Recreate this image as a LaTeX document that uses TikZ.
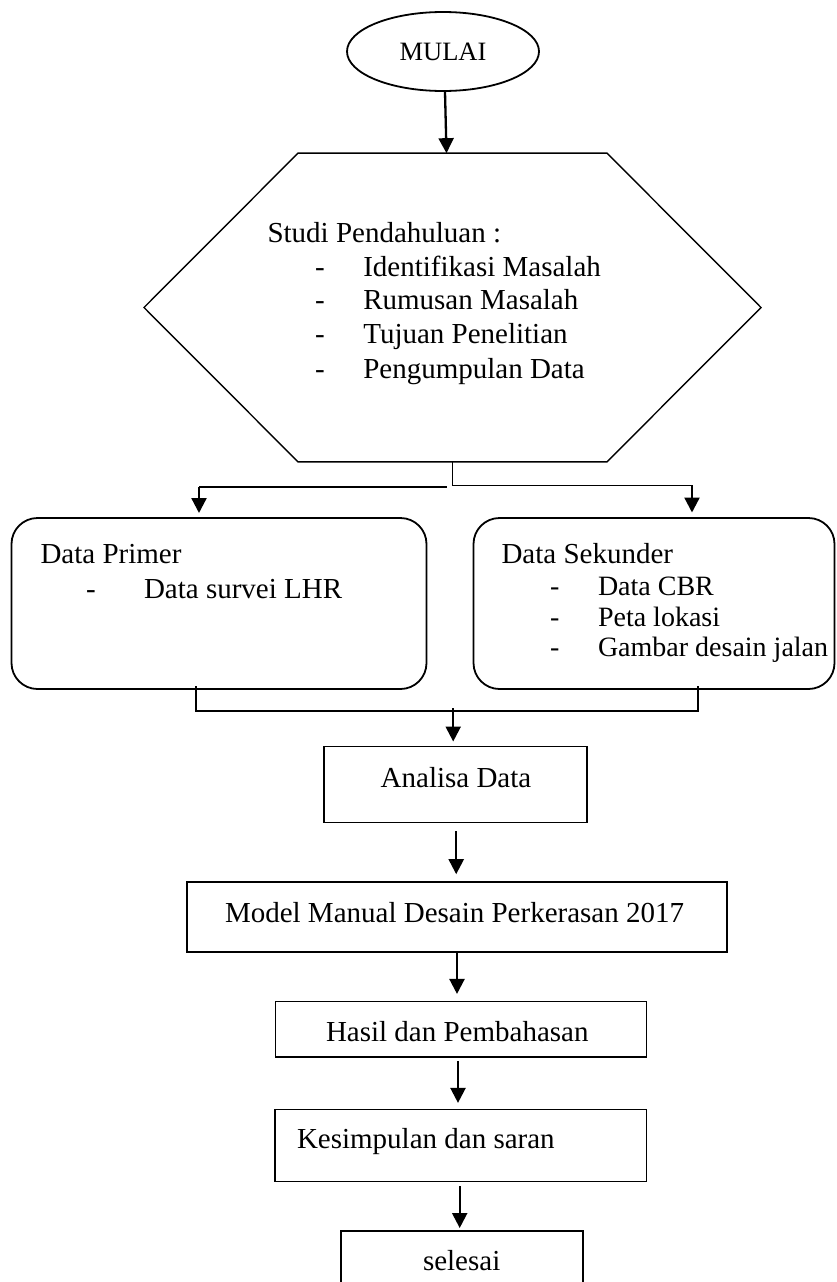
\documentclass[tikz,border=0pt]{standalone}
\usepackage{fontspec}
\setmainfont{Liberation Serif}
\usetikzlibrary{shapes.geometric,arrows.meta}
\begin{document}
\begin{tikzpicture}[x=1pt,y=-1pt,
  box/.style={draw,line width=1.8pt,rectangle,inner sep=0pt,outer sep=0pt},
  rbox/.style={box,rounded corners=26pt},
  ghost/.style={rectangle,inner sep=0pt,outer sep=0pt},
  txt/.style={anchor=base west,inner sep=0pt,outer sep=0pt,font=\fontsize{29}{34}\selectfont},
  stxt/.style={txt,font=\fontsize{28}{31}\selectfont},
  arr/.style={line width=2.3pt,-{Triangle[width=15pt,length=15pt]}},
  conn/.style={line width=1.5pt},
]
\clip (0,0) rectangle (836,1282);
\fill[white] (0,0) rectangle (836,1282);

% start
\node[draw,ellipse,line width=1.8pt,minimum width=192pt,minimum height=79pt,inner sep=0pt,
      font=\fontsize{26.5}{30}\selectfont] (mulai) at (443,51.5) {MULAI};

% hexagon
\node[ghost,minimum width=617pt,minimum height=308.7pt] (hex) at (452.5,307.5) {};
\draw[line width=1.4pt,line join=miter] (hex.west) -- ([xshift=154pt]hex.north west) -- ([xshift=-154pt]hex.north east)
   -- (hex.east) -- ([xshift=-154pt]hex.south east) -- ([xshift=154pt]hex.south west) -- cycle;
\node[txt] (h0) at (267.5,242) {Studi Pendahuluan :};
\node[txt] (hd1) at (315,276) {-};
\node[txt] (h1) at (363.3,276) {Identifikasi Masalah};
\node[txt] (hd2) at (315,309.5) {-};
\node[txt] (h2) at (363.3,309.5) {Rumusan Masalah};
\node[txt] (hd3) at (315,343) {-};
\node[txt] (h3) at (363.3,343) {Tujuan Penelitian};
\node[txt] (hd4) at (315,378) {-};
\node[txt] (h4) at (363.3,378) {Pengumpulan Data};

% data boxes
\node[rbox,minimum width=415pt,minimum height=171pt] (primer) at (219,603.5) {};
\node[txt] (p0) at (40.5,563) {Data Primer};
\node[txt] (pd1) at (86,598) {-};
\node[txt] (p1) at (144,598) {Data survei LHR};

\node[rbox,minimum width=361pt,minimum height=171pt] (sekunder) at (654,603.5) {};
\node[txt] (s0) at (501.5,563) {Data Sekunder};
\node[stxt] (sd1) at (550,595) {-};
\node[stxt] (s1) at (598,595) {Data CBR};
\node[stxt] (sd2) at (550,626) {-};
\node[stxt] (s2) at (598,626) {Peta lokasi};
\node[stxt] (sd3) at (550,656) {-};
\node[stxt] (s3) at (598,656) {Gambar desain jalan};

% process boxes
\node[box,minimum width=263pt,minimum height=76pt] (analisa) at (455.2,784.5) {};
\node[txt] (a0) at (380.7,787) {Analisa Data};
\node[box,minimum width=540pt,minimum height=70pt] (model) at (457,916.7) {};
\node[txt] (m0) at (225,922) {Model Manual Desain Perkerasan 2017};
\node[box,minimum width=371pt,minimum height=55.5pt] (hasil) at (461,1029.2) {};
\node[txt] (hs0) at (326,1041) {Hasil dan Pembahasan};
\node[box,minimum width=371.4pt,minimum height=72pt] (kesim) at (460.7,1145.4) {};
\node[txt] (k0) at (297,1148) {Kesimpulan dan saran};
\node[box,minimum width=242pt,minimum height=90pt] (selesai) at (461.7,1276) {};
\node[txt] (se0) at (423,1270) {selesai};

% connectors
\draw[arr] ([xshift=2pt]mulai.south) -- ([xshift=-6pt]hex.north);

\coordinate (pl) at (199,487);
\coordinate (pr) at (692,485.3);
\draw[conn] (hex.south) -- (hex.south |- pr) -- (pr);
\draw[arr,shorten >=5.5pt] (pr) -- (pr |- sekunder.north);
\draw[conn] ([xshift=-6pt]hex.south |- pl) -- (pl);
\draw[arr,shorten >=5pt] (pl) -- (pl |- primer.north);

\coordinate (ml) at (196,711);
\coordinate (mr) at (698,711);
\draw[conn] ([yshift=3pt]ml |- primer.south) -- (ml) -- (mr) -- ([yshift=3pt]mr |- sekunder.south);
\draw[arr,shorten >=5pt] ([xshift=-2pt,yshift=3pt]analisa.north |- ml) -- ([xshift=-2pt]analisa.north);

\draw[arr,shorten <=8.5pt,shorten >=7.5pt] ([xshift=1pt]analisa.south) -- ([xshift=1pt]analisa.south |- model.north);
\draw[arr,shorten <=1pt,shorten >=7.5pt] (model.south) -- (model.south |- hasil.north);
\draw[arr,shorten <=4pt,shorten >=6.5pt] ([xshift=-3pt]hasil.south) -- ([xshift=-3pt]hasil.south |- kesim.north);
\draw[arr,shorten <=5pt,shorten >=3pt] ([xshift=-1pt]kesim.south) -- ([xshift=-1pt]kesim.south |- selesai.north);
\end{tikzpicture}
\end{document}
